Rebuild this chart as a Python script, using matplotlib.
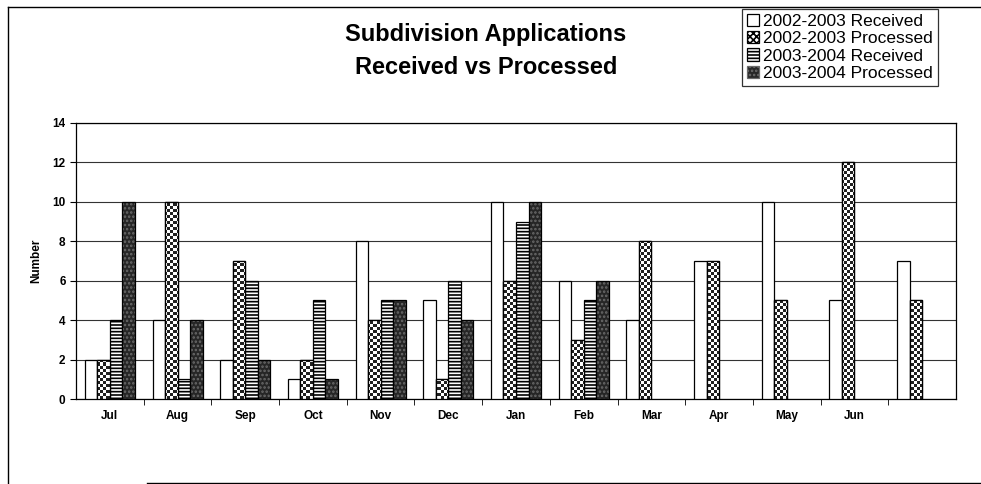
import numpy as np
import matplotlib.pyplot as plt
from matplotlib.lines import Line2D
from matplotlib.patches import Patch

plt.rcParams['font.family'] = ['Liberation Sans', 'DejaVu Sans']
plt.rcParams['hatch.linewidth'] = 1.2

months = ['Jul', 'Aug', 'Sep', 'Oct', 'Nov', 'Dec', 'Jan', 'Feb', 'Mar', 'Apr', 'May', 'Jun', '']
recv_0203 = [2, 4, 2, 1, 8, 5, 10, 6, 4, 7, 10, 5, 7]
proc_0203 = [2, 10, 7, 2, 4, 1, 6, 3, 8, 7, 5, 12, 5]
recv_0304 = [4, 1, 6, 5, 5, 6, 9, 5, None, None, None, None, None]
proc_0304 = [10, 4, 2, 1, 5, 4, 10, 6, None, None, None, None, None]
labels = ['2002-2003 Received', '2002-2003 Processed',
          '2003-2004 Received', '2003-2004 Processed']


def as_arr(vals):
    return np.array([np.nan if v is None else v for v in vals], dtype=float)


fig = plt.figure(figsize=(9.81, 4.84), dpi=100)
ax = fig.add_axes([0.0775, 0.1756, 0.897, 0.5703])

x = np.arange(len(months))
w = 0.185
offs = [-1.5 * w, -0.5 * w, 0.5 * w, 1.5 * w]
xlim = (-0.5, len(months) - 0.5)
ylim = (0, 14)

# 02-03 received: plain white
ax.bar(x + offs[0], as_arr(recv_0203), w, color='white', edgecolor='black', lw=0.9, zorder=3)

# 02-03 processed: checkerboard, drawn as an image clipped to each bar
bars = ax.bar(x + offs[1], as_arr(proc_0203), w, color='white', edgecolor='black', lw=0.9, zorder=3)
rows, cols = 92, 290
checker = np.indices((rows, cols)).sum(axis=0) % 2
for b in bars:
    if np.isnan(b.get_height()):
        continue
    im = ax.imshow(checker, cmap='gray', vmin=-0.15, vmax=1, extent=(*xlim, *ylim),
                   origin='lower', interpolation='nearest', aspect='auto', zorder=3.5)
    im.set_clip_path(b)
for b in bars:
    ax.add_patch(plt.Rectangle(b.get_xy(), b.get_width(), b.get_height(),
                               fill=False, edgecolor='black', lw=0.9, zorder=4))

# 03-04 received: horizontal stripes
ax.bar(x + offs[2], as_arr(recv_0304), w, color='white', edgecolor='black', hatch='-----', lw=0.9, zorder=3)
# 03-04 processed: dark stipple
ax.bar(x + offs[3], as_arr(proc_0304), w, color='#262626', edgecolor='#6a6a6a', hatch='....', lw=0, zorder=3)
ax.bar(x + offs[3], as_arr(proc_0304), w, color='none', edgecolor='black', lw=0.9, zorder=3)

ax.set_xlim(*xlim)
ax.set_ylim(*ylim)
ax.set_yticks(range(0, 15, 2))
ax.set_xticks(x)
ax.set_xticklabels(months, fontsize=8.5, fontweight='bold')
ax.tick_params(axis='x', which='major', length=0, pad=8)
ax.set_xticks(np.arange(0.5, len(months) - 0.5, 1), minor=True)
ax.tick_params(axis='x', which='minor', length=4, direction='out')
ax.tick_params(axis='y', labelsize=8.5, length=4, direction='out')
for t in ax.get_yticklabels():
    t.set_fontweight('bold')
ax.yaxis.grid(True, color='#333333', lw=0.8, zorder=0)
ax.set_ylabel('Number', fontsize=8.5, fontweight='bold', labelpad=7)
for s in ax.spines.values():
    s.set_linewidth(0.9)

fig.text(0.4955, 0.928, 'Subdivision Applications', ha='center', va='center',
         fontsize=17, fontweight='bold')
fig.text(0.4955, 0.861, 'Received vs Processed', ha='center', va='center',
         fontsize=17, fontweight='bold')

handles = [
    Patch(facecolor='white', edgecolor='black', lw=0.9),
    Patch(facecolor='white', edgecolor='black', hatch='xxxxx', lw=0.9),
    Patch(facecolor='white', edgecolor='black', hatch='-----', lw=0.9),
    Patch(facecolor='#262626', edgecolor='#6a6a6a', hatch='....', lw=0.9),
]
leg = fig.legend(handles, labels, loc='upper right', bbox_to_anchor=(0.956, 0.982),
                 fontsize=12.5, frameon=True, fancybox=False, borderpad=0.3,
                 handlelength=0.7, handleheight=0.7, handletextpad=0.2,
                 labelspacing=0.12, borderaxespad=0)
leg.get_frame().set_edgecolor('black')
leg.get_frame().set_linewidth(0.9)

# outer chart border
fig.add_artist(Line2D([0.008, 0.008], [0.0, 0.986], color='black', lw=1.0))
fig.add_artist(Line2D([0.008, 1.0], [0.986, 0.986], color='black', lw=1.0))
fig.add_artist(Line2D([0.15, 1.0], [0.003, 0.003], color='black', lw=1.0))

fig.savefig('out.png', dpi=100)
